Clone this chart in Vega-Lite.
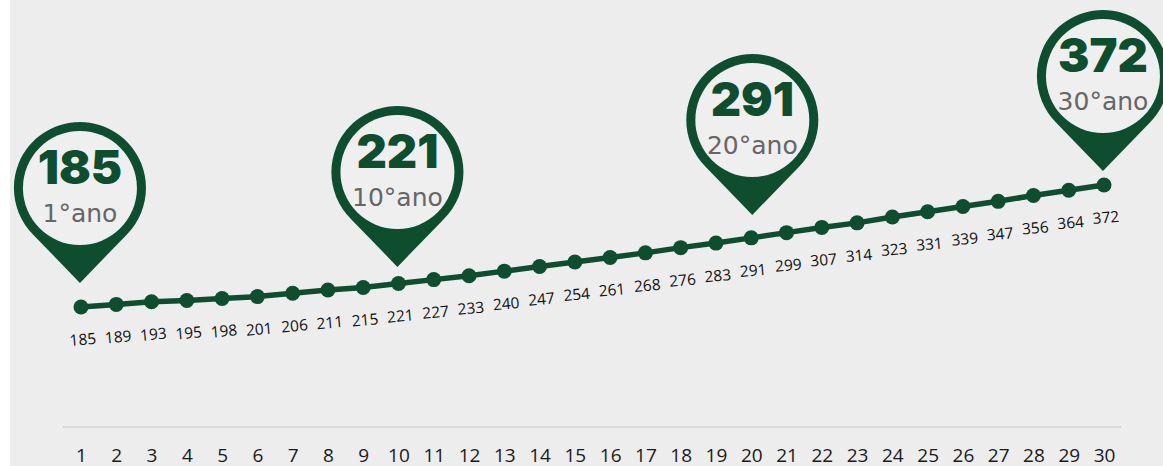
{
"$schema":"https://vega.github.io/schema/vega-lite/v6.json",
"width":1153,"height":466,"autosize":{"type":"none"},"padding":{"left":10,"top":0,"right":0,"bottom":0},
"background":"#ffffff",
"config":{"view":{"fill":"#ededed","stroke":null}},
"datasets":{
"serie":[{"ano":1,"v":185},{"ano":2,"v":189},{"ano":3,"v":193},{"ano":4,"v":195},{"ano":5,"v":198},{"ano":6,"v":201},{"ano":7,"v":206},{"ano":8,"v":211},{"ano":9,"v":215},{"ano":10,"v":221},{"ano":11,"v":227},{"ano":12,"v":233},{"ano":13,"v":240},{"ano":14,"v":247},{"ano":15,"v":254},{"ano":16,"v":261},{"ano":17,"v":268},{"ano":18,"v":276},{"ano":19,"v":283},{"ano":20,"v":291},{"ano":21,"v":299},{"ano":22,"v":307},{"ano":23,"v":314},{"ano":24,"v":323},{"ano":25,"v":331},{"ano":26,"v":339},{"ano":27,"v":347},{"ano":28,"v":356},{"ano":29,"v":364},{"ano":30,"v":372}],
"pins":[{"pinAno":0.97,"pinV":367.4,"valor":"185","rotulo":"1°ano"},{"pinAno":9.97,"pinV":391.9,"valor":"221","rotulo":"10°ano"},{"pinAno":20.03,"pinV":471.6,"valor":"291","rotulo":"20°ano"},{"pinAno":29.97,"pinV":539,"valor":"372","rotulo":"30°ano"}],
"base":[{"a":0.49,"b":30.48,"y":1}]
},
"data":{"name":"serie"},
"encoding":{
 "x":{"field":"ano","type":"quantitative","scale":{"domain":[-1.0125,31.672],"nice":false,"zero":false},
   "axis":{"values":[1,2,3,4,5,6,7,8,9,10,11,12,13,14,15,16,17,18,19,20,21,22,23,24,25,26,27,28,29,30],"format":"d","title":null,"grid":false,"domain":false,"ticks":false,"offset":-39,"labelPadding":19,"labelFontSize":19,"labelFont":"Open Sans","labelColor":"#1a1a1a","labelFlush":false,"labelOverlap":false,"labelBound":false,"labelSeparation":0,"tickCount":30}},
 "y":{"field":"v","type":"quantitative","scale":{"domain":[-58.7,655.6],"nice":false,"zero":false},"axis":null}
},
"layer":[
{"data":{"name":"base"},"mark":{"type":"rule","color":"#d9d9d9","strokeWidth":2},
 "encoding":{"x":{"field":"a","type":"quantitative"},"x2":{"field":"b"},"y":{"field":"y","type":"quantitative"}}},
{"mark":{"type":"line","color":"#0f4d2f","strokeWidth":5.5}},
{"mark":{"type":"point","filled":true,"opacity":1,"color":"#0f4d2f","size":225,"shape":"circle"}},
{"mark":{"type":"text","font":"Open Sans","fontSize":15.5,"color":"#111111","angle":355,"dx":-1,"dy":33},
 "encoding":{"text":{"field":"v","type":"nominal"}}},
{"data":{"name":"pins"},"mark":{"type":"point","filled":true,"opacity":1,"color":"#0f4d2f","size":34596,"shape":"M0,1.02 L-0.5,0.504 A0.71,0.71 0 1 1 0.5,0.504 Z"},
 "encoding":{"x":{"field":"pinAno","type":"quantitative"},"y":{"field":"pinV","type":"quantitative"}}},
{"data":{"name":"pins"},"mark":{"type":"point","filled":true,"opacity":1,"color":"#efefef","size":12996,"shape":"circle"},
 "encoding":{"x":{"field":"pinAno","type":"quantitative"},"y":{"field":"pinV","type":"quantitative"}}},
{"data":{"name":"pins"},"mark":{"type":"text","font":"Inter","fontWeight":900,"fontSize":47,"color":"#0f4d2f","baseline":"alphabetic","dy":-4},
 "encoding":{"x":{"field":"pinAno","type":"quantitative"},"y":{"field":"pinV","type":"quantitative"},"text":{"field":"valor","type":"nominal"}}},
{"data":{"name":"pins"},"mark":{"type":"text","font":"DejaVu Sans","fontSize":25,"color":"#666666","baseline":"alphabetic","dy":34},
 "encoding":{"x":{"field":"pinAno","type":"quantitative"},"y":{"field":"pinV","type":"quantitative"},"text":{"field":"rotulo","type":"nominal"}}}
]
}
